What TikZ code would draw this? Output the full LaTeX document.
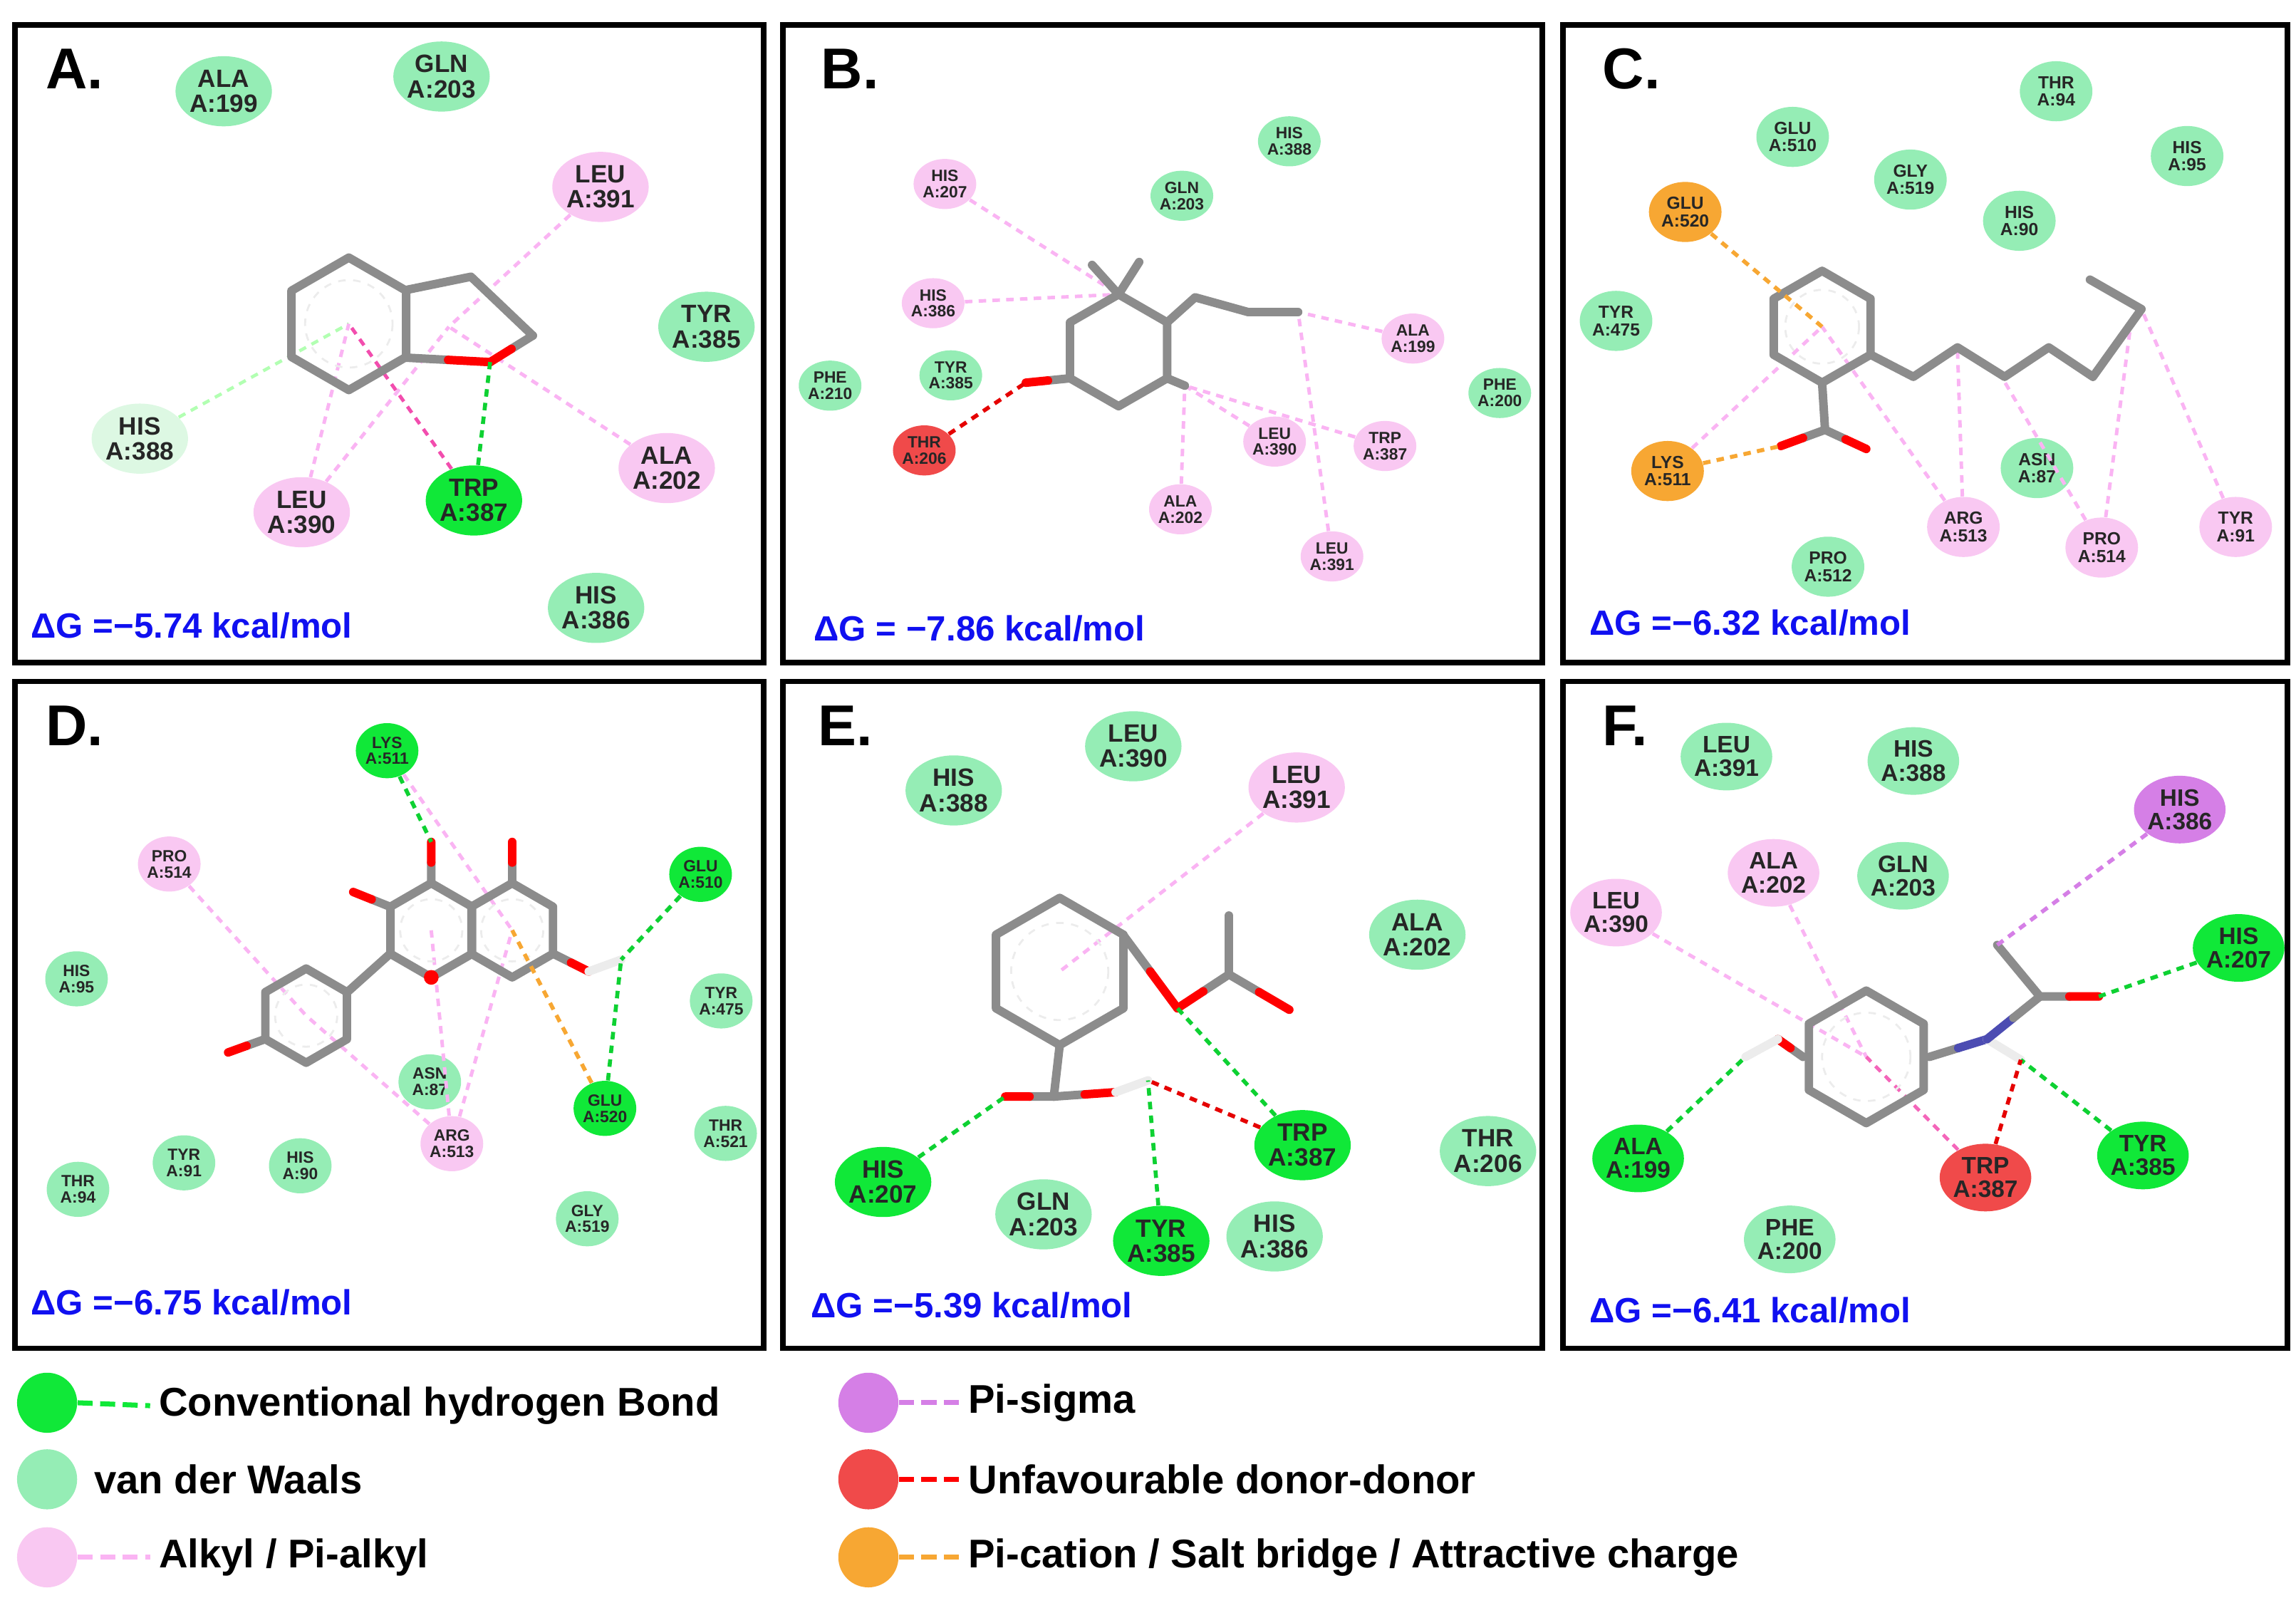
\documentclass[tikz,border=0pt]{standalone}
\usepackage{fontspec}
\setmainfont{Liberation Sans}
\usetikzlibrary{shapes.geometric, positioning, calc}

\definecolor{vdwc}{HTML}{95EDB5}
\definecolor{vdwp}{HTML}{DDF8E3}
\definecolor{hbc}{HTML}{10E838}
\definecolor{alkc}{HTML}{F9C8F2}
\definecolor{unfc}{HTML}{F04A4A}
\definecolor{catc}{HTML}{F7A733}
\definecolor{psc}{HTML}{D57FE6}
\definecolor{bondc}{HTML}{8C8C8C}
\definecolor{dgc}{HTML}{1010F0}

% ring of six bonds with the aromatic dashes inside
\newcommand{\ring}[2]{%
  \draw[bond] ($(#1)+(90:#2)$) \foreach \a in {150,210,270,330,30} {-- ($(#1)+(\a:#2)$)} -- cycle;
  \draw[aro] (#1) circle[radius=0.66*#2];}
% bond to a coloured atom
\newcommand{\abond}[3]{%
  \draw[bond] (#1) -- ($(#1)!.5!(#2)$);
  \draw[bond, #3] ($(#1)!.5!(#2)$) -- (#2);}

\begin{document}
\begin{tikzpicture}[x=0.2066mm, y=-0.2066mm,
    res/.style={ellipse, inner sep=0pt, align=center, text=black!85,
      minimum width=37pt, minimum height=28pt, font=\fontsize{10}{10}\selectfont\bfseries},
    vdw/.style={res, fill=vdwc},
    pale/.style={res, fill=vdwp},
    hb/.style={res, fill=hbc},
    alk/.style={res, fill=alkc},
    unf/.style={res, fill=unfc},
    cat/.style={res, fill=catc},
    psig/.style={res, fill=psc},
    bond/.style={line width=3.4pt, bondc, line cap=round, line join=round},
    aro/.style={line width=0.8pt, white!85!gray, dashed},
    hbl/.style={hbc!90!black, line width=1.6pt, dash pattern=on 3pt off 2.5pt},
    palel/.style={green!30!white, line width=1.3pt, dash pattern=on 3pt off 2.5pt},
    alkl/.style={alkc!90!magenta, line width=1.4pt, dash pattern=on 3pt off 2.5pt},
    unfl/.style={red!90!black, line width=1.6pt, dash pattern=on 3pt off 2.5pt},
    catl/.style={catc, line width=1.6pt, dash pattern=on 3pt off 2.5pt},
    psl/.style={psc, line width=1.6pt, dash pattern=on 3pt off 2.5pt},
    panel/.style={draw, line width=2.2pt},
    title/.style={anchor=west, font=\fontsize{23}{23}\selectfont\bfseries},
    dg/.style={anchor=west, text=dgc, font=\fontsize{14}{14}\selectfont\bfseries},
    leg/.style={anchor=west, font=\fontsize{16}{16}\selectfont\bfseries},
    dot/.style={circle, minimum size=24pt, inner sep=0pt},
    legl/.style={line width=2pt, dash pattern=on 6pt off 3pt}]

    \useasboundingbox (0,0) rectangle (1560,1089);

    % Panels
    \draw[panel] (10,17) rectangle (519,450);
    \draw[panel] (532,17) rectangle (1048,450);
    \draw[panel] (1062,17) rectangle (1554,450);
    \draw[panel] (10,463) rectangle (519,916);
    \draw[panel] (532,463) rectangle (1048,916);
    \draw[panel] (1062,463) rectangle (1554,916);

    % Panel A
    \begin{scope}
    \coordinate (a-c) at (237,220);
    \coordinate (a-r1) at (276,197);
    \coordinate (a-r2) at (276,243);
    \coordinate (a-r3) at (320,188);
    \coordinate (a-r4) at (362,228);
    \coordinate (a-o) at (333,246);
    \coordinate (a-p) at (305,222);
    \node[vdw] (a-ala199) at (152,62) {ALA\\A:199};
    \node[vdw] (a-gln203) at (300,52) {GLN\\A:203};
    \node[alk] (a-leu391) at (408,127) {LEU\\A:391};
    \node[vdw] (a-tyr385) at (480,222) {TYR\\A:385};
    \node[pale] (a-his388) at (95,298) {HIS\\A:388};
    \node[alk] (a-leu390) at (205,348) {LEU\\A:390};
    \node[hb] (a-trp387) at (322,340) {TRP\\A:387};
    \node[alk] (a-ala202) at (453,318) {ALA\\A:202};
    \node[vdw] (a-his386) at (405,413) {HIS\\A:386};
    \draw[palel] (a-his388) -- (a-c);
    \draw[alkl] (a-leu391) -- (a-p);
    \draw[alkl] (a-leu390) -- (a-c);
    \draw[alkl] (a-leu390) -- (a-p);
    \draw[alkl] (a-ala202) -- (a-p);
    \draw[alkl, magenta!70] (a-trp387) -- (a-c);
    \ring{a-c}{45}
    \draw[bond] (a-r1) -- (a-r3) -- (a-r4);
    \abond{a-r4}{a-o}{red}
    \abond{a-r2}{a-o}{red}
    \draw[hbl] (a-trp387) -- (a-o);
    \end{scope}
    \node[title] (a-title) at (25,47) {A.};
    \node[dg] (a-dg) at (15,425) {ΔG =−5.74 kcal/mol};

    % Panel B
    \begin{scope}[res/.append style={minimum width=23pt, minimum height=20pt, font=\fontsize{6.5}{6.5}\selectfont\bfseries}]
    \coordinate (b-c) at (760,238);
    \coordinate (b-top) at (760,200);
    \coordinate (b-ur) at (793,219);
    \coordinate (b-lr) at (793,257);
    \coordinate (b-ll) at (727,257);
    \coordinate (b-o) at (697,260);
    \coordinate (b-m1) at (742,180);
    \coordinate (b-m2) at (774,178);
    \coordinate (b-s1) at (812,202);
    \coordinate (b-s2) at (848,212);
    \coordinate (b-s3) at (882,212);
    \coordinate (b-me) at (805,262);
    \node[vdw] (b-his388) at (876,96) {HIS\\A:388};
    \node[alk] (b-his207) at (642,125) {HIS\\A:207};
    \node[vdw] (b-gln203) at (803,133) {GLN\\A:203};
    \node[alk] (b-his386) at (634,206) {HIS\\A:386};
    \node[vdw] (b-tyr385) at (646,255) {TYR\\A:385};
    \node[vdw] (b-phe210) at (564,262) {PHE\\A:210};
    \node[unf] (b-thr206) at (628,306) {THR\\A:206};
    \node[alk] (b-ala199) at (960,230) {ALA\\A:199};
    \node[vdw] (b-phe200) at (1019,267) {PHE\\A:200};
    \node[alk] (b-leu390) at (866,300) {LEU\\A:390};
    \node[alk] (b-trp387) at (941,303) {TRP\\A:387};
    \node[alk] (b-ala202) at (802,346) {ALA\\A:202};
    \node[alk] (b-leu391) at (905,378) {LEU\\A:391};
    \draw[alkl] (b-his207) -- (b-top);
    \draw[alkl] (b-his386) -- (b-top);
    \draw[alkl] (b-ala199) -- (b-s3);
    \draw[alkl] (b-leu391) -- (b-s3);
    \draw[alkl] (b-leu390) -- (b-me);
    \draw[alkl] (b-trp387) -- (b-me);
    \draw[alkl] (b-ala202) -- (b-me);
    \draw[bond] (b-top) -- (b-ur) -- (b-lr) -- (760,276) -- (b-ll) -- (727,219) -- cycle;
    \draw[bond] (b-top) -- (b-m1);
    \draw[bond] (b-top) -- (b-m2);
    \draw[bond] (b-ur) -- (b-s1) -- (b-s2) -- (b-s3);
    \draw[bond] (b-lr) -- (b-me);
    \abond{b-ll}{b-o}{red}
    \draw[unfl] (b-thr206) -- (b-o);
    \end{scope}
    \node[title] (b-title) at (552,47) {B.};
    \node[dg] (b-dg) at (547,427) {ΔG = −7.86 kcal/mol};

    % Panel C
    \begin{scope}[res/.append style={minimum width=29pt, minimum height=24pt, font=\fontsize{7}{7}\selectfont\bfseries}]
    \coordinate (c-c) at (1238,222);
    \coordinate (c-b) at (1238,260);
    \coordinate (c-cx) at (1240,292);
    \coordinate (c-o1) at (1210,303);
    \coordinate (c-o2) at (1268,305);
    \coordinate (c-ur) at (1271,241);
    \coordinate (c-t) at (1455,210);
    \node[vdw] (c-thr94) at (1397,62) {THR\\A:94};
    \node[vdw] (c-glu510) at (1218,93) {GLU\\A:510};
    \node[vdw] (c-gly519) at (1298,122) {GLY\\A:519};
    \node[vdw] (c-his95) at (1486,106) {HIS\\A:95};
    \node[vdw] (c-his90) at (1372,150) {HIS\\A:90};
    \node[cat] (c-glu520) at (1145,144) {GLU\\A:520};
    \node[vdw] (c-tyr475) at (1098,218) {TYR\\A:475};
    \node[cat] (c-lys511) at (1133,320) {LYS\\A:511};
    \node[vdw] (c-asn87) at (1384,318) {ASN\\A:87};
    \node[alk] (c-arg513) at (1334,358) {ARG\\A:513};
    \node[alk] (c-pro514) at (1428,372) {PRO\\A:514};
    \node[vdw] (c-pro512) at (1242,385) {PRO\\A:512};
    \node[alk] (c-tyr91) at (1519,358) {TYR\\A:91};
    \draw[alkl] (c-lys511) -- (c-c);
    \draw[alkl] (c-arg513) -- (c-c);
    \draw[alkl] (c-arg513) -- (1330,238);
    \draw[alkl] (c-pro514) -- (1360,256);
    \draw[alkl] (c-pro514) -- (1448,218);
    \draw[alkl] (c-tyr91) -- (c-t);
    \ring{c-c}{38}
    \draw[bond] (c-ur) -- (1300,256) -- (1330,236) -- (1362,256) -- (1392,236) -- (1422,256) -- (c-t) -- (1420,190);
    \draw[bond] (c-b) -- (c-cx);
    \abond{c-cx}{c-o1}{red}
    \abond{c-cx}{c-o2}{red}
    \draw[catl] (c-glu520) -- (c-c);
    \draw[catl] (c-lys511) -- (c-o1);
    \end{scope}
    \node[title] (c-title) at (1083,47) {C.};
    \node[dg] (c-dg) at (1074,423) {ΔG =−6.32 kcal/mol};

    % Panel D
    \begin{scope}[res/.append style={minimum width=25pt, minimum height=22pt, font=\fontsize{6.5}{6.5}\selectfont\bfseries}]
    \coordinate (d-ca) at (348,632);
    \coordinate (d-cc) at (293,632);
    \coordinate (d-cb) at (208,690);
    \coordinate (d-o1) at (293,572);
    \coordinate (d-o2) at (348,572);
    \coordinate (d-o3) at (240,606);
    \coordinate (d-o4) at (400,660);
    \coordinate (d-h4) at (422,652);
    \coordinate (d-o5) at (155,715);
    \node[hb] (d-lys511) at (263,510) {LYS\\A:511};
    \node[alk] (d-pro514) at (115,587) {PRO\\A:514};
    \node[hb] (d-glu510) at (476,594) {GLU\\A:510};
    \node[vdw] (d-his95) at (52,665) {HIS\\A:95};
    \node[vdw] (d-tyr475) at (490,680) {TYR\\A:475};
    \node[vdw] (d-asn87) at (292,735) {ASN\\A:87};
    \node[hb] (d-glu520) at (411,753) {GLU\\A:520};
    \node[alk] (d-arg513) at (307,777) {ARG\\A:513};
    \node[vdw] (d-thr521) at (493,770) {THR\\A:521};
    \node[vdw] (d-tyr91) at (125,790) {TYR\\A:91};
    \node[vdw] (d-his90) at (204,792) {HIS\\A:90};
    \node[vdw] (d-thr94) at (53,808) {THR\\A:94};
    \node[vdw] (d-gly519) at (399,828) {GLY\\A:519};
    \draw[alkl] (d-pro514) -- (d-cb);
    \draw[alkl] (d-arg513) -- (d-cb);
    \draw[alkl] (d-arg513) -- (d-cc);
    \draw[alkl] (d-arg513) -- (d-ca);
    \draw[alkl] (d-lys511) -- (d-ca);
    \ring{d-ca}{32}
    \ring{d-cc}{32}
    \ring{d-cb}{32}
    \draw[bond] (265,648) -- (236,674);
    \abond{293,600}{d-o1}{red}
    \abond{348,600}{d-o2}{red}
    \abond{265,616}{d-o3}{red}
    \abond{376,648}{d-o4}{red}
    \draw[bond, white!85!gray] (d-o4) -- (d-h4);
    \abond{180,706}{d-o5}{red}
    \fill[red] (293,664) circle[radius=5];
    \draw[hbl] (d-lys511) -- (d-o1);
    \draw[hbl] (d-glu510) -- (d-h4);
    \draw[hbl] (d-glu520) -- (d-h4);
    \draw[catl] (d-glu520) -- (d-ca);
    \end{scope}
    \node[title] (d-title) at (25,493) {D.};
    \node[dg] (d-dg) at (15,885) {ΔG =−6.75 kcal/mol};

    % Panel E
    \begin{scope}[res/.append style={minimum width=35pt, minimum height=28pt, font=\fontsize{10}{10}\selectfont\bfseries}]
    \coordinate (e-c) at (720,660);
    \coordinate (e-ur) at (763,635);
    \coordinate (e-ll) at (720,710);
    \coordinate (e-oe) at (800,685);
    \coordinate (e-ce) at (835,662);
    \coordinate (e-me) at (835,622);
    \coordinate (e-oc) at (876,686);
    \coordinate (e-ca) at (716,745);
    \coordinate (e-o1) at (683,745);
    \coordinate (e-o2) at (758,742);
    \coordinate (e-h) at (780,734);
    \node[vdw] (e-his388) at (648,537) {HIS\\A:388};
    \node[vdw] (e-leu390) at (770,507) {LEU\\A:390};
    \node[alk] (e-leu391) at (881,535) {LEU\\A:391};
    \node[vdw] (e-ala202) at (963,635) {ALA\\A:202};
    \node[hb] (e-his207) at (600,803) {HIS\\A:207};
    \node[hb] (e-trp387) at (885,778) {TRP\\A:387};
    \node[vdw] (e-thr206) at (1011,782) {THR\\A:206};
    \node[vdw] (e-gln203) at (709,825) {GLN\\A:203};
    \node[hb] (e-tyr385) at (789,843) {TYR\\A:385};
    \node[vdw] (e-his386) at (866,840) {HIS\\A:386};
    \draw[alkl] (e-leu391) -- (e-c);
    \ring{e-c}{50}
    \abond{e-ur}{e-oe}{red}
    \abond{e-ce}{e-oe}{red}
    \draw[bond] (e-ce) -- (e-me);
    \abond{e-ce}{e-oc}{red}
    \draw[bond] (e-ll) -- (e-ca);
    \abond{e-ca}{e-o1}{red}
    \abond{e-ca}{e-o2}{red}
    \draw[bond, white!85!gray] (e-o2) -- (e-h);
    \draw[hbl] (e-trp387) -- (e-oe);
    \draw[unfl] (e-trp387) -- (e-h);
    \draw[hbl] (e-tyr385) -- (e-h);
    \draw[hbl] (e-his207) -- (e-o1);
    \end{scope}
    \node[title] (e-title) at (550,493) {E.};
    \node[dg] (e-dg) at (545,887) {ΔG =−5.39 kcal/mol};

    % Panel F
    \begin{scope}[res/.append style={minimum width=33pt, minimum height=27pt, font=\fontsize{9.5}{9.5}\selectfont\bfseries}]
    \coordinate (f-c) at (1268,718);
    \coordinate (f-l) at (1225,718);
    \coordinate (f-r) at (1311,718);
    \coordinate (f-o) at (1208,706);
    \coordinate (f-ho) at (1186,718);
    \coordinate (f-n) at (1350,706);
    \coordinate (f-hn) at (1373,720);
    \coordinate (f-cc) at (1386,677);
    \coordinate (f-me) at (1357,642);
    \coordinate (f-oc) at (1426,677);
    \node[vdw] (f-leu391) at (1173,514) {LEU\\A:391};
    \node[vdw] (f-his388) at (1300,517) {HIS\\A:388};
    \node[psig] (f-his386) at (1481,550) {HIS\\A:386};
    \node[alk] (f-ala202) at (1205,593) {ALA\\A:202};
    \node[vdw] (f-gln203) at (1293,595) {GLN\\A:203};
    \node[alk] (f-leu390) at (1098,620) {LEU\\A:390};
    \node[hb] (f-his207) at (1521,644) {HIS\\A:207};
    \node[hb] (f-ala199) at (1113,787) {ALA\\A:199};
    \node[unf] (f-trp387) at (1349,800) {TRP\\A:387};
    \node[hb] (f-tyr385) at (1456,785) {TYR\\A:385};
    \node[vdw] (f-phe200) at (1216,842) {PHE\\A:200};
    \draw[alkl] (f-leu390) -- (f-c);
    \draw[alkl] (f-ala202) -- (f-c);
    \draw[alkl, magenta!60] (f-trp387) -- (f-c);
    \draw[bond] ($(f-c)+(30:45)$) \foreach \a in {90,150,210,270,330} {-- ($(f-c)+(\a:45)$)} -- cycle;
    \draw[aro] (f-c) circle[radius=30];
    \draw[bond] (f-l) -- (f-o);
    \draw[bond, red] ($(f-l)!.5!(f-o)$) -- (f-o);
    \draw[bond, white!85!gray] (f-o) -- (f-ho);
    \abond{f-r}{f-n}{blue!40!gray}
    \draw[bond, white!85!gray] (f-n) -- (f-hn);
    \draw[bond, blue!40!gray] (f-n) -- ($(f-n)!.5!(f-cc)$);
    \draw[bond] ($(f-n)!.5!(f-cc)$) -- (f-cc);
    \draw[bond] (f-cc) -- (f-me);
    \abond{f-cc}{f-oc}{red}
    \draw[psl] (f-his386) -- (f-me);
    \draw[hbl] (f-his207) -- (f-oc);
    \draw[hbl] (f-tyr385) -- (f-hn);
    \draw[unfl] (f-trp387) -- (f-hn);
    \draw[hbl] (f-ala199) -- (f-ho);
    \end{scope}
    \node[title] (f-title) at (1083,493) {F.};
    \node[dg] (f-dg) at (1074,890) {ΔG =−6.41 kcal/mol};

    % Legend
    \node[dot, fill=hbc] (l-hb) at (32,953) {};
    \node[dot, fill=vdwc] (l-vdw) at (32,1005) {};
    \node[dot, fill=alkc] (l-alk) at (32,1058) {};
    \node[dot, fill=psc] (l-ps) at (590,953) {};
    \node[dot, fill=unfc] (l-unf) at (590,1005) {};
    \node[dot, fill=catc] (l-cat) at (590,1058) {};
    \node[leg] (t-hb) at (102,955) {Conventional hydrogen Bond};
    \node[leg] (t-vdw) at (58,1005) {van der Waals};
    \node[leg] (t-alk) at (102,1058) {Alkyl / Pi-alkyl};
    \node[leg] (t-ps) at (652,953) {Pi-sigma};
    \node[leg] (t-unf) at (652,1005) {Unfavourable donor-donor};
    \node[leg] (t-cat) at (652,1058) {Pi-cation / Salt bridge / Attractive charge};
    \draw[legl, hbc] (l-hb.east) -- (t-hb.west);
    \draw[legl, alkc!90!magenta] (l-alk.east) -- (t-alk.west);
    \draw[legl, psc] (l-ps.east) -- (t-ps.west);
    \draw[legl, red] (l-unf.east) -- (t-unf.west);
    \draw[legl, catc] (l-cat.east) -- (t-cat.west);

\end{tikzpicture}
\end{document}
